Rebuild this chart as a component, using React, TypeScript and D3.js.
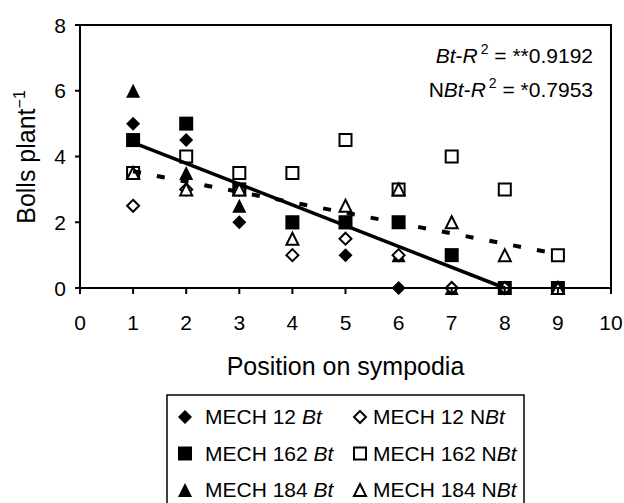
import React from "react";
import * as d3 from "d3";

// positions on sympodia (x) and bolls per plant for each cultivar
const positions = [1, 2, 3, 4, 5, 6, 7, 8, 9];
const mech12Bt = [5, 4.5, 2, 2, 1, 0, 0, 0, 0];
const mech162Bt = [4.5, 5, 3, 2, 2, 2, 1, 0, 0];
const mech184Bt = [6, 3.5, 2.5, 2, 2, 1, 0, 0, 0];
const mech12NBt = [2.5, 3, 3, 1, 1.5, 1, 0, 0, null];
const mech162NBt = [3.5, 4, 3.5, 3.5, 4.5, 3, 4, 3, 1];
const mech184NBt = [3.5, 3, 3, 1.5, 2.5, 3, 2, 1, 0];

// trend lines
const btTrend: [number, number][] = [[1, 4.42], [8, 0]];
const nbtTrend: [number, number][] = [[1, 3.55], [9, 1.03]];

const xTicks = [0, 1, 2, 3, 4, 5, 6, 7, 8, 9, 10];
const yTicks = [0, 2, 4, 6, 8];

const font = "'Liberation Sans', Arial, sans-serif";

type Shape = "diamond" | "square" | "triangle";

function markerPath(shape: Shape, filled: boolean) {
  const r = filled ? 7 : 6;
  if (shape === "diamond") return `M0,${-r}L${r},0L0,${r}L${-r},0Z`;
  if (shape === "square") return `M${-r},${-r}H${r}V${r}H${-r}Z`;
  return `M0,${-r}L${r},${r}L${-r},${r}Z`;
}

function Marker({ shape, filled, x, y }: { shape: Shape; filled: boolean; x: number; y: number }) {
  return (
    <path
      d={markerPath(shape, filled)}
      transform={`translate(${x},${y})`}
      fill={filled ? "#000" : "#fff"}
      stroke="#000"
      strokeWidth={filled ? 0 : 2}
    />
  );
}

const series = [
  { label: "MECH 12", bt: true, shape: "diamond" as Shape, values: mech12Bt },
  { label: "MECH 162", bt: true, shape: "square" as Shape, values: mech162Bt },
  { label: "MECH 184", bt: true, shape: "triangle" as Shape, values: mech184Bt },
  { label: "MECH 12", bt: false, shape: "diamond" as Shape, values: mech12NBt },
  { label: "MECH 162", bt: false, shape: "square" as Shape, values: mech162NBt },
  { label: "MECH 184", bt: false, shape: "triangle" as Shape, values: mech184NBt },
];

function Chart() {
  const width = 624;
  const height = 503;
  const x = d3.scaleLinear().domain([0, 10]).range([80, 611]);
  const y = d3.scaleLinear().domain([0, 8]).range([288, 25]);
  const line = d3
    .line<[number, number]>()
    .x((d) => x(d[0]))
    .y((d) => y(d[1]));

  const legendX = 167;
  const legendY = 395;

  return (
    <svg width={width} height={height} style={{ position: "absolute", left: 0, top: 0 }} fontFamily={font}>
      <rect width={width} height={height} fill="#fff" />

      {/* markers */}
      {series.map((s, si) =>
        s.values.map((v, i) =>
          v === null ? null : (
            <Marker key={`${si}-${i}`} shape={s.shape} filled={s.bt} x={x(positions[i])} y={y(v)} />
          )
        )
      )}

      {/* trend lines */}
      <path d={line(btTrend) ?? ""} fill="none" stroke="#000" strokeWidth={3.5} />
      <path d={line(nbtTrend) ?? ""} fill="none" stroke="#000" strokeWidth={4} strokeDasharray="8,16.2" />

      {/* frame */}
      <path
        d={`M${x(0)},${y(8)}H${x(10)}V${y(0)}`}
        fill="none"
        stroke="#000"
        strokeWidth={2}
      />
      <line x1={x(0)} x2={x(0)} y1={y(8)} y2={y(0)} stroke="#000" strokeWidth={2} />
      <line x1={x(0)} x2={x(10)} y1={y(0)} y2={y(0)} stroke="#000" strokeWidth={2} />

      {yTicks.map((t) => (
        <g key={t}>
          <line x1={x(0) - 5} x2={x(0)} y1={y(t)} y2={y(t)} stroke="#000" strokeWidth={2} />
          <text x={66} y={y(t) + 7.5} textAnchor="end" fontSize={21}>
            {t}
          </text>
        </g>
      ))}
      {xTicks.map((t) => (
        <g key={t}>
          <line x1={x(t)} x2={x(t)} y1={y(0)} y2={y(0) + 6} stroke="#000" strokeWidth={2} />
          <text x={x(t)} y={329.5} textAnchor="middle" fontSize={21}>
            {t}
          </text>
        </g>
      ))}

      <text x={(x(0) + x(10)) / 2} y={375} textAnchor="middle" fontSize={25}>
        Position on sympodia
      </text>
      <text transform="translate(35,157) rotate(-90)" textAnchor="middle" fontSize={25}>
        Bolls plant
        <tspan dy={-10} fontSize={16}>
          −1
        </tspan>
      </text>

      <text x={593} y={63} textAnchor="end" fontSize={21}>
        <tspan fontStyle="italic">Bt</tspan>
        <tspan>-</tspan>
        <tspan fontStyle="italic">R</tspan>
        <tspan dx={3} dy={-9} fontSize={14}>
          2
        </tspan>
        <tspan dy={9}> = **0.9192</tspan>
      </text>
      <text x={593} y={97} textAnchor="end" fontSize={21}>
        <tspan>N</tspan>
        <tspan fontStyle="italic">Bt</tspan>
        <tspan>-</tspan>
        <tspan fontStyle="italic">R</tspan>
        <tspan dx={3} dy={-9} fontSize={14}>
          2
        </tspan>
        <tspan dy={9}> = *0.7953</tspan>
      </text>

      {/* legend */}
      <rect x={legendX} y={legendY} width={357} height={130} fill="none" stroke="#000" strokeWidth={1.5} />
      {series.map((s, si) => {
        const col = s.bt ? 0 : 1;
        const row = si % 3;
        const mx = col === 0 ? 185 : 360;
        const tx = col === 0 ? 205 : 373;
        const by = 424 + row * 36.5;
        return (
          <g key={si}>
            <Marker shape={s.shape} filled={s.bt} x={mx} y={by - 7} />
            <text x={tx} y={by} fontSize={21}>
              {s.label} {s.bt ? "" : "N"}
              <tspan fontStyle="italic">Bt</tspan>
            </text>
          </g>
        );
      })}
    </svg>
  );
}

export default function App() {
  return <Chart />;
}
